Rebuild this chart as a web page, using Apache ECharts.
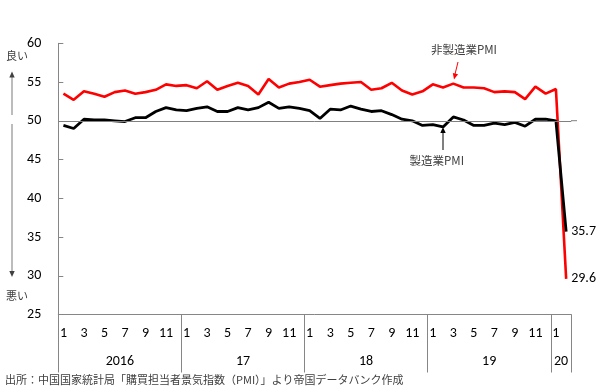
<!DOCTYPE html>
<html><head><meta charset="utf-8">
<script src="https://cdn.jsdelivr.net/npm/echarts@6/dist/echarts.min.js"></script>
<style>html,body{margin:0;padding:0;background:#fff}#c{width:600px;height:392px}</style>
</head><body><div id="c"></div>
<script>
// Months Jan 2016 - Feb 2020
const monthLabels = [
  '1','2','3','4','5','6','7','8','9','10','11','12',
  '1','2','3','4','5','6','7','8','9','10','11','12',
  '1','2','3','4','5','6','7','8','9','10','11','12',
  '1','2','3','4','5','6','7','8','9','10','11','12',
  '1','2'
];
const yearLabels = ['2016','17','18','19','20'];
const yearCenters = [6,18,30,42,49];
const yearBounds = [0,12,24,36,48,50];
// 製造業PMI
const mfgPMI = [
  49.4,49.0,50.2,50.1,50.1,50.0,49.9,50.4,50.4,51.2,51.7,51.4,
  51.3,51.6,51.8,51.2,51.2,51.7,51.4,51.7,52.4,51.6,51.8,51.6,
  51.3,50.3,51.5,51.4,51.9,51.5,51.2,51.3,50.8,50.2,50.0,49.4,
  49.5,49.2,50.5,50.1,49.4,49.4,49.7,49.5,49.8,49.3,50.2,50.2,
  50.0,35.7
];
// 非製造業PMI
const nonMfgPMI = [
  53.5,52.7,53.8,53.5,53.1,53.7,53.9,53.5,53.7,54.0,54.7,54.5,
  54.6,54.2,55.1,54.0,54.5,54.9,54.5,53.4,55.4,54.3,54.8,55.0,
  55.3,54.4,54.6,54.8,54.9,55.0,54.0,54.2,54.9,53.9,53.4,53.8,
  54.7,54.3,54.8,54.3,54.3,54.2,53.7,53.8,53.7,52.8,54.4,53.5,
  54.1,29.6
];

const NUMF = "Carlito, 'Liberation Sans', Arial, sans-serif";
const JPF = "'Noto Sans CJK JP', sans-serif";
const AX = '#868686';
const chart = echarts.init(document.getElementById('c'), null, {renderer:'canvas'});

function arrowHead(tx,ty,dx,dy,size,color){
  const len=Math.hypot(dx,dy); const ux=dx/len, uy=dy/len; const px=-uy, py=ux;
  const bx=tx-ux*size, by=ty-uy*size;
  return {type:'polygon', shape:{points:[[tx,ty],[bx+px*size*0.45,by+py*size*0.45],[bx-px*size*0.45,by-py*size*0.45]]}, style:{fill:color}, silent:true};
}
const endLbl = {show:true, distance:5, formatter:function(p){return String(p.value);}, color:'#000', fontSize:14, fontFamily:NUMF};

chart.setOption({
  animation:false,
  grid:{left:58.3, right:28.7, top:43.3, bottom:77.5},
  xAxis:[{
    type:'category', data:monthLabels, boundaryGap:true,
    axisLine:{lineStyle:{color:AX, width:1}},
    axisTick:{show:false},
    axisLabel:{interval:1, margin:12, color:'#000', fontSize:14, fontFamily:NUMF}
  },{
    type:'value', min:0, max:50, position:'bottom',
    axisLine:{show:false}, splitLine:{show:false},
    axisTick:{show:true, inside:false, length:58, customValues:yearBounds, lineStyle:{color:AX, width:1}},
    axisLabel:{show:true, margin:40, customValues:yearCenters, color:'#000', fontSize:14, fontFamily:NUMF,
      formatter:function(v){ const i=yearCenters.indexOf(Math.round(v)); return i>=0?yearLabels[i]:''; }}
  }],
  yAxis:{
    type:'value', min:25, max:60, interval:5,
    axisLine:{show:true, lineStyle:{color:AX, width:1}},
    axisTick:{show:true, inside:true, length:5, lineStyle:{color:AX}},
    splitLine:{show:false},
    axisLabel:{margin:17, color:'#000', fontSize:14, fontFamily:NUMF}
  },
  series:[{
    name:'非製造業PMI', type:'line', xAxisIndex:0, data:nonMfgPMI,
    symbol:'none', lineStyle:{color:'#ff0000', width:2.6}, itemStyle:{color:'#ff0000'},
    endLabel:endLbl
  },{
    name:'製造業PMI', type:'line', xAxisIndex:0, data:mfgPMI,
    symbol:'none', lineStyle:{color:'#000000', width:2.8}, itemStyle:{color:'#000'},
    endLabel:endLbl,
    markLine:{silent:true, symbol:'none', label:{show:false}, lineStyle:{color:'#808080', width:1, type:'solid'}, data:[{yAxis:50}]}
  }],
  graphic:[
    {type:'text', left:6, top:50, style:{text:'良い', font:'11px '+JPF, fill:'#404040'}},
    {type:'text', left:6, top:290, style:{text:'悪い', font:'11px '+JPF, fill:'#404040'}},
    {type:'line', shape:{x1:12,y1:115,x2:12,y2:76}, style:{stroke:'#a6a6a6', lineWidth:1.5}},
    arrowHead(12,71.5,0,-1,6,'#404040'),
    {type:'line', shape:{x1:12,y1:124,x2:12,y2:272}, style:{stroke:'#a6a6a6', lineWidth:1.5}},
    arrowHead(12,277,0,1,6,'#404040'),
    {type:'line', shape:{x1:571,y1:120.7,x2:577,y2:120.7}, style:{stroke:'#808080', lineWidth:1}},
    {type:'text', left:431, top:44, style:{text:'非製造業PMI', font:'11.5px '+JPF, fill:'#404040'}},
    {type:'line', shape:{x1:458,y1:62,x2:454.8,y2:75}, style:{stroke:'#ff0000', lineWidth:1}},
    arrowHead(454,79.5,-3.2,13,6,'#ff0000'),
    {type:'text', right:136, top:155, style:{text:'製造業PMI', font:'11.5px '+JPF, fill:'#404040'}},
    {type:'line', shape:{x1:443,y1:150,x2:443,y2:131}, style:{stroke:'#000', lineWidth:1}},
    arrowHead(443,127,0,-1,6,'#000'),
    {type:'text', left:5, top:374, style:{text:'出所：中国国家統計局「購買担当者景気指数（PMI）」より帝国データバンク作成', font:'11px '+JPF, fill:'#404040'}}
  ]
});
</script></body></html>
